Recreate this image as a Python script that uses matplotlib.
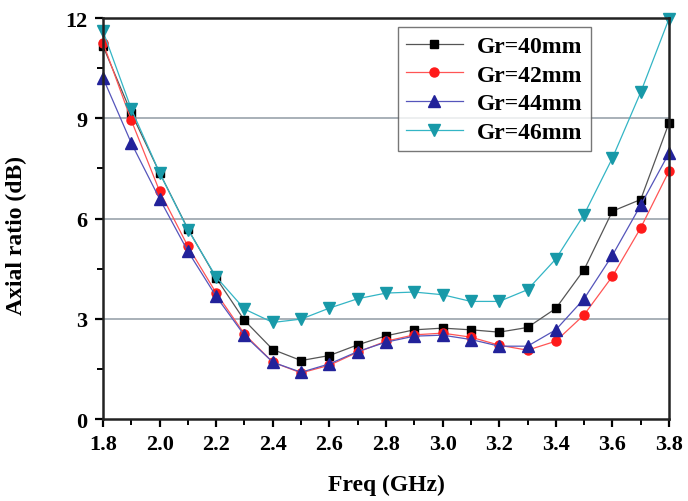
import matplotlib
matplotlib.use("Agg")
import matplotlib.pyplot as plt
import numpy as np
from matplotlib.ticker import MultipleLocator

plt.rcParams['font.family'] = ['Liberation Serif', 'DejaVu Serif']
plt.rcParams['font.weight'] = 'bold'

freq = np.round(np.arange(1.8, 3.81, 0.1), 1)

ar_40 = [11.16, 9.16, 7.37, 5.69, 4.22, 2.95, 2.08, 1.75, 1.90, 2.22, 2.49,
         2.67, 2.72, 2.67, 2.60, 2.74, 3.31, 4.47, 6.22, 6.57, 8.86]
ar_42 = [11.26, 8.94, 6.82, 5.17, 3.77, 2.54, 1.70, 1.38, 1.61, 2.00, 2.33,
         2.52, 2.57, 2.45, 2.21, 2.06, 2.33, 3.12, 4.27, 5.72, 7.42]
ar_44 = [10.21, 8.26, 6.59, 5.02, 3.67, 2.50, 1.70, 1.40, 1.65, 2.02, 2.30,
         2.48, 2.51, 2.38, 2.18, 2.18, 2.67, 3.60, 4.90, 6.40, 7.96]
ar_46 = [11.61, 9.28, 7.37, 5.67, 4.25, 3.29, 2.89, 2.99, 3.32, 3.60, 3.77,
         3.80, 3.72, 3.52, 3.52, 3.87, 4.79, 6.12, 7.81, 9.78, 11.98]

labels = ['Gr=40mm', 'Gr=42mm', 'Gr=44mm', 'Gr=46mm']

fig = plt.figure(figsize=(6.88, 5.02), dpi=100)
ax = fig.add_axes([0.1497, 0.1633, 0.8227, 0.7987])

# horizontal reference lines
for yv in (3, 6, 9):
    ax.axhline(yv, color='#9aa3ab', lw=1.2, zorder=0)

ax.plot(freq, ar_40, '-s', color='#555555', mfc='black', mec='black', ms=6, lw=0.9, label=labels[0], clip_on=False)
ax.plot(freq, ar_42, '-o', color='#ff5555', mfc='#ff1a1a', mec='#ff1a1a', ms=6.5, lw=0.9, label=labels[1], clip_on=False)
ax.plot(freq, ar_44, '-^', color='#5555bb', mfc='#22229a', mec='#22229a', ms=8, lw=0.9, label=labels[2], clip_on=False)
ax.plot(freq, ar_46, '-v', color='#33b5c5', mfc='#1899a8', mec='#1899a8', ms=8, lw=0.9, label=labels[3], clip_on=False)

ax.set_xlim(1.8, 3.8)
ax.set_ylim(0, 12)
ax.xaxis.set_major_locator(MultipleLocator(0.2))
ax.xaxis.set_minor_locator(MultipleLocator(0.1))
ax.yaxis.set_major_locator(MultipleLocator(3))
ax.yaxis.set_minor_locator(MultipleLocator(1.5))
ax.xaxis.set_major_formatter(matplotlib.ticker.FormatStrFormatter('%.1f'))

for s in ax.spines.values():
    s.set_linewidth(1.8)
    s.set_color('#222222')
ax.tick_params(which='major', direction='out', length=6, width=1.6, labelsize=16, pad=5)
ax.tick_params(which='minor', direction='out', length=4, width=1.4)
for lab in ax.get_xticklabels() + ax.get_yticklabels():
    lab.set_fontweight('bold')

ax.set_xlabel('Freq (GHz)', fontsize=17, fontweight='bold', labelpad=14)
ax.set_ylabel('Axial ratio (dB)', fontsize=17, fontweight='bold')
ax.yaxis.set_label_coords(-0.135, 0.459)

leg = ax.legend(loc='upper left', bbox_to_anchor=(0.521, 0.977), fontsize=17,
                frameon=True, fancybox=False, edgecolor='#555555', borderaxespad=0,
                handlelength=2.4, borderpad=0.35, labelspacing=0.3, handletextpad=0.6)
leg.get_frame().set_linewidth(1.0)
for t in leg.get_texts():
    t.set_fontweight('bold')

fig.savefig('out.png', dpi=100)
